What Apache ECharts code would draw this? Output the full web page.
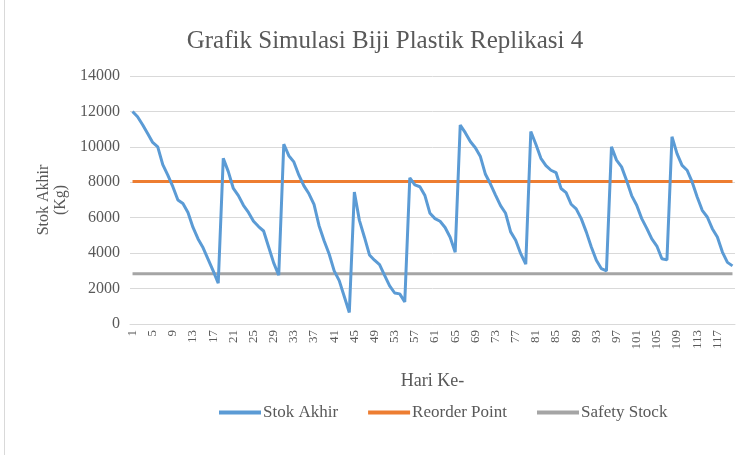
<!DOCTYPE html>
<html>
<head>
<meta charset="utf-8">
<script src="https://cdn.jsdelivr.net/npm/echarts@6/dist/echarts.min.js"></script>
<style>
  html, body { margin: 0; padding: 0; background: #fff; }
  #main { width: 748px; height: 455px; }
  #edge { position: absolute; left: 4px; top: 0; width: 1px; height: 455px; background: #d9d9d9; }
</style>
</head>
<body>
<div id="edge"></div>
<div id="main"></div>
<script>
// hari ke- 1..120
const days = Array.from({length: 120}, (_, i) => String(i + 1));

// stok akhir (Kg)
const stokAkhir = [
  12000, 11700, 11250, 10750, 10250, 10000, 9000, 8400, 7750, 7000,
  6800, 6300, 5450, 4800, 4300, 3650, 3000, 2300, 9350, 8600,
  7650, 7250, 6700, 6300, 5800, 5500, 5250, 4350, 3450, 2750,
  10150, 9500, 9150, 8400, 7800, 7350, 6750, 5550, 4700, 3950,
  3000, 2450, 1550, 650, 7450, 5850, 4900, 3900, 3600, 3350,
  2750, 2150, 1750, 1700, 1250, 8250, 7850, 7750, 7250, 6250,
  5950, 5800, 5450, 4900, 4050, 11230, 10800, 10300, 9950, 9450,
  8450, 7900, 7280, 6680, 6250, 5200, 4730, 3970, 3380, 10870,
  10150, 9350, 8940, 8680, 8550, 7650, 7420, 6760, 6500, 5950,
  5200, 4350, 3600, 3120, 3000, 10000, 9250, 8870, 8100, 7250,
  6700, 5950, 5400, 4800, 4400, 3680, 3620, 10570, 9620, 8950,
  8680, 8020, 7170, 6420, 6040, 5380, 4910, 4060, 3480, 3280
];

const reorderValue = 8050;
const safetyValue = 2840;
const reorderPoint = days.map(() => reorderValue);
const safetyStock = days.map(() => safetyValue);

const yTicks = { min: 0, max: 14000, interval: 2000 };

const textColor = '#595959';
const serif = '"Liberation Serif", "DejaVu Serif", serif';

const myChart = echarts.init(document.getElementById('main'));

const options = {
    animation: false,
    title: {
        text: 'Grafik Simulasi Biji Plastik Replikasi 4',
        left: 380,
        top: 24,
        textAlign: 'center',
        textStyle: {
            fontFamily: serif,
            fontSize: 25,
            fontWeight: 'normal',
            color: textColor
        }
    },
    grid: {
        left: 130,
        right: 13,
        top: 76,
        bottom: 131
    },
    legend: {
        data: ['Stok Akhir', 'Reorder Point', 'Safety Stock'],
        left: 214,
        top: 399,
        icon: 'rect',
        itemWidth: 42,
        itemHeight: 4,
        itemGap: 30,
        textStyle: {
            fontFamily: serif,
            fontSize: 17,
            color: textColor,
            padding: [0, 0, 0, -3]
        }
    },
    xAxis: {
        type: 'category',
        data: days,
        boundaryGap: true,
        name: 'Hari Ke-',
        nameLocation: 'middle',
        nameGap: 48,
        nameTextStyle: {
            fontFamily: serif,
            fontSize: 18,
            color: textColor
        },
        axisLine: { lineStyle: { color: '#d9d9d9', width: 1 } },
        axisTick: { show: false },
        axisLabel: {
            interval: 3,
            rotate: 90,
            margin: 6,
            fontFamily: serif,
            fontSize: 13,
            color: textColor
        },
        splitLine: { show: false }
    },
    yAxis: {
        type: 'value',
        min: yTicks.min,
        max: yTicks.max,
        interval: yTicks.interval,
        name: 'Stok Akhir\n(Kg)',
        nameLocation: 'middle',
        nameGap: 57,
        nameTextStyle: {
            fontFamily: serif,
            fontSize: 16,
            color: textColor,
            lineHeight: 17
        },
        axisLine: { show: false },
        axisTick: { show: false },
        axisLabel: {
            margin: 10,
            fontFamily: serif,
            fontSize: 16,
            color: textColor,
            formatter: (v) => String(v)
        },
        splitLine: { lineStyle: { color: '#d9d9d9', width: 1 } }
    },
    series: [
        {
            name: 'Stok Akhir',
            type: 'line',
            data: stokAkhir,
            symbol: 'none',
            lineStyle: { color: '#5b9bd5', width: 3 },
            itemStyle: { color: '#5b9bd5' },
            z: 3
        },
        {
            name: 'Reorder Point',
            type: 'line',
            data: reorderPoint,
            symbol: 'none',
            lineStyle: { color: '#ed7d31', width: 3 },
            itemStyle: { color: '#ed7d31' },
            z: 2
        },
        {
            name: 'Safety Stock',
            type: 'line',
            data: safetyStock,
            symbol: 'none',
            lineStyle: { color: '#a5a5a5', width: 3 },
            itemStyle: { color: '#a5a5a5' },
            z: 2
        }
    ]
};

myChart.setOption(options);
</script>
</body>
</html>
